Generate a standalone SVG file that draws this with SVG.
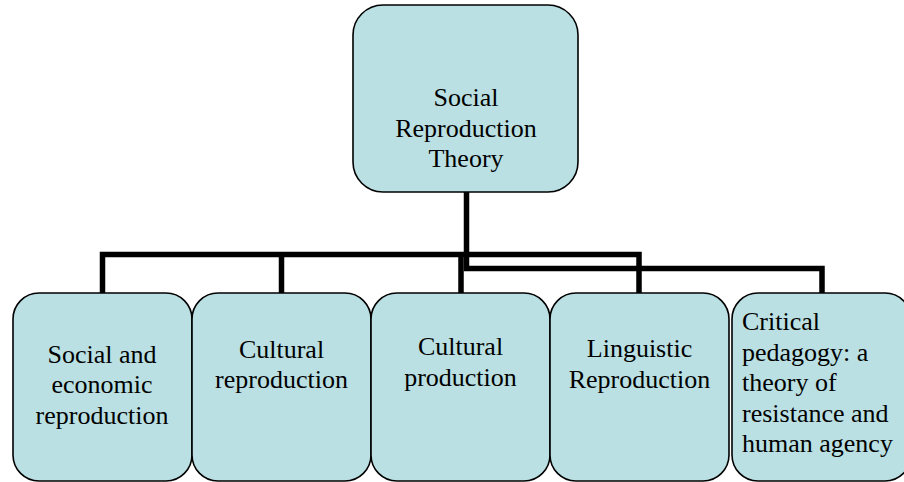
<svg xmlns="http://www.w3.org/2000/svg" width="904" height="482" viewBox="0 0 904 482">
<style>
.box{fill:#BAE0E3;stroke:#000;stroke-width:1.6}
text{font-family:'Liberation Serif','Times New Roman','DejaVu Serif',serif;font-size:26px;fill:#000}
.c{text-anchor:middle}
.conn{fill:none;stroke:#000;stroke-width:5.5;stroke-linejoin:miter}
</style>
<rect width="904" height="482" fill="#fff"/>
<g id="connectors">
<path class="conn" d="M102.5,293 V254.5 H639 V293"/>
<path class="conn" d="M281.5,254.5 V293"/>
<path class="conn" d="M461,254.5 V293"/>
<path class="conn" d="M466.5,192 V268.5 H822 V293"/>
</g>
<g id="root">
<rect class="box" x="353" y="5" width="225" height="187" rx="30" ry="30"/>
<text class="c" x="466" y="106" font-family="Liberation Serif, serif">Social</text>
<text class="c" x="466" y="136.5" font-family="Liberation Serif, serif">Reproduction</text>
<text class="c" x="466" y="167" font-family="Liberation Serif, serif">Theory</text>
</g>
<g id="n1">
<rect class="box" x="13" y="293" width="179" height="188" rx="26" ry="26"/>
<text class="c" x="102" y="362.5">Social and</text>
<text class="c" x="102" y="393">economic</text>
<text class="c" x="102" y="423.5">reproduction</text>
</g>
<g id="n2">
<rect class="box" x="192" y="293" width="179" height="188" rx="26" ry="26"/>
<text class="c" x="281.5" y="358">Cultural</text>
<text class="c" x="281.5" y="388">reproduction</text>
</g>
<g id="n3">
<rect class="box" x="371" y="293" width="179" height="188" rx="26" ry="26"/>
<text class="c" x="460.5" y="355">Cultural</text>
<text class="c" x="460.5" y="386">production</text>
</g>
<g id="n4">
<rect class="box" x="550" y="293" width="179" height="188" rx="26" ry="26"/>
<text class="c" x="639.5" y="357">Linguistic</text>
<text class="c" x="639.5" y="388">Reproduction</text>
</g>
<g id="n5">
<rect class="box" x="732" y="293" width="179" height="188" rx="26" ry="26"/>
<text x="742" y="330">Critical</text>
<text x="742" y="360.5">pedagogy: a</text>
<text x="742" y="391">theory of</text>
<text x="742" y="421.5">resistance and</text>
<text x="742" y="452">human agency</text>
</g>
</svg>
